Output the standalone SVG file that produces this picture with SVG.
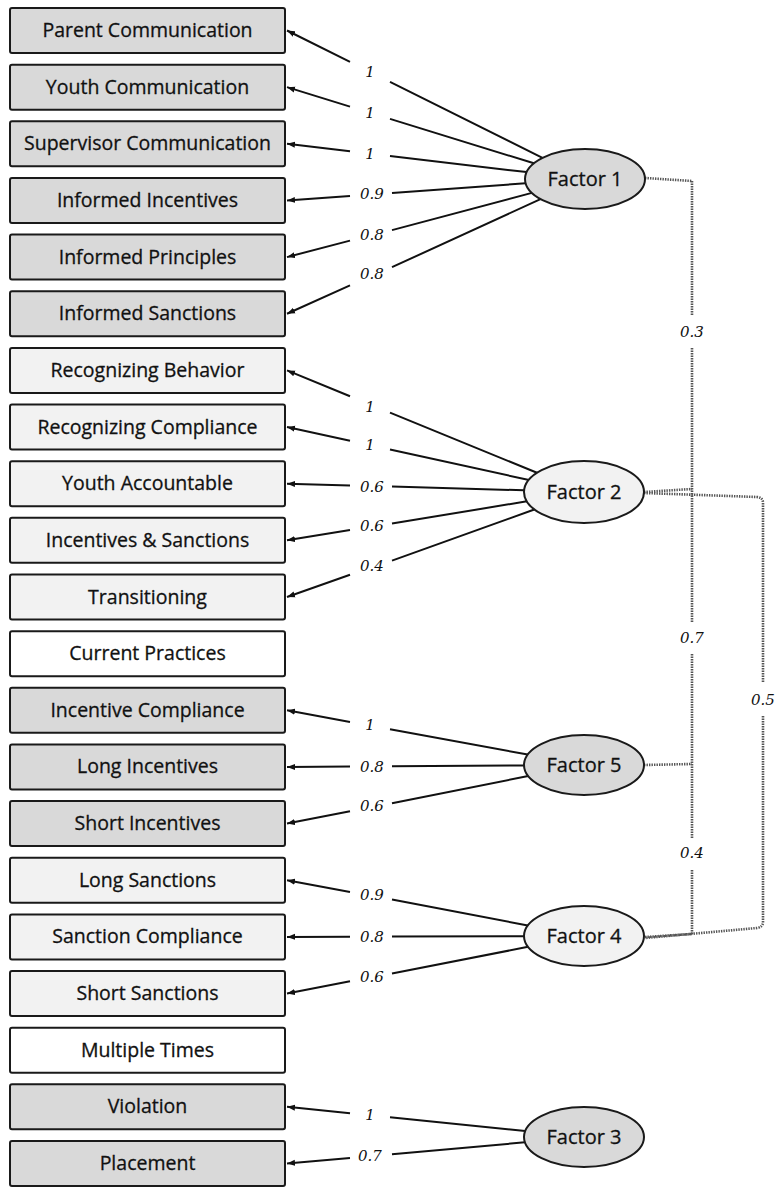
<svg xmlns="http://www.w3.org/2000/svg" width="776" height="1190" viewBox="0 0 776 1190">
<style>
.box{stroke:#1a1a1a;stroke-width:2}
.g{fill:#d9d9d9}.l{fill:#f2f2f2}.w{fill:#ffffff}
.bt{font-family:"Open Sans",sans-serif;font-size:19.5px;fill:#111;stroke:#111;stroke-width:0.3;text-anchor:middle}
.ft{font-family:"Open Sans",sans-serif;font-size:20px;fill:#111;stroke:#111;stroke-width:0.3;text-anchor:middle}
.ell{stroke:#1a1a1a;stroke-width:2}
.ld{fill:none;stroke:#111;stroke-width:2}
.dot{fill:none;stroke:#555;stroke-width:2.6;stroke-dasharray:1.4 1.1}
.lab{font-family:"DejaVu Serif",serif;font-style:italic;font-size:15px;fill:#111;text-anchor:middle}
</style>
<defs>
<marker id="ah" markerUnits="userSpaceOnUse" markerWidth="9" markerHeight="7" refX="8" refY="3.5" orient="auto">
<path d="M0,0.5 L8,3.5 L0,6.5 z" fill="#111"/>
</marker>
</defs>
<rect width="776" height="1190" fill="#ffffff"/>

<g id="connectors">
<g id="loadings" class="ld" marker-end="url(#ah)">
<path d="M542.5,157.8 L390,81.8 M350,61.9 L287,30.5"/>
<path d="M533.9,163.3 L390,118.9 M350,106.6 L287,87.15"/>
<path d="M526.6,172.1 L390,156.0 M350,151.2 L287,143.8"/>
<path d="M525.6,183.3 L392,193.0 M350,195.9 L287,200.45"/>
<path d="M531.9,192.9 L392,230.1 M350,240.6 L287,257.1"/>
<path d="M540.5,199.1 L392,267.2 M350,285.3 L287,313.75"/>
<path d="M537.6,473.0 L390,412.6 M350,396.2 L287,370.4"/>
<path d="M529.0,480.0 L390,449.6 M350,440.8 L287,427.05"/>
<path d="M524.1,490.3 L392,486.6 M350,485.5 L287,483.7"/>
<path d="M526.9,501.3 L392,523.6 M350,530.1 L287,540.35"/>
<path d="M535.0,509.3 L392,560.6 M350,574.7 L287,597.0"/>
<path d="M527.7,754.6 L390,729.3 M350,721.9 L287,710.3"/>
<path d="M524.0,765.4 L392,766.3 M350,766.5 L287,766.95"/>
<path d="M528.2,776.0 L392,803.3 M350,811.2 L287,823.6"/>
<path d="M527.8,925.5 L392,899.6 M350,892.1 L287,880.25"/>
<path d="M524.0,936.2 L392,936.6 M350,936.7 L287,936.9"/>
<path d="M528.1,946.8 L392,973.6 M350,981.3 L287,993.55"/>
<path d="M525.2,1131.0 L390,1117.3 M350,1113.2 L287,1106.85"/>
<path d="M524.9,1142.3 L392,1154.3 M350,1157.9 L287,1163.5"/>
</g>
<g id="loading-labels" class="lab">
<text x="370" y="77">1</text>
<text x="370" y="118">1</text>
<text x="370" y="159">1</text>
<text x="372" y="199">0.9</text>
<text x="372" y="240">0.8</text>
<text x="372" y="279">0.8</text>
<text x="370" y="412">1</text>
<text x="370" y="450">1</text>
<text x="372" y="492">0.6</text>
<text x="372" y="531">0.6</text>
<text x="372" y="571">0.4</text>
<text x="370" y="730">1</text>
<text x="372" y="772">0.8</text>
<text x="372" y="811">0.6</text>
<text x="372" y="900">0.9</text>
<text x="372" y="942">0.8</text>
<text x="372" y="982">0.6</text>
<text x="370" y="1120">1</text>
<text x="370" y="1161">0.7</text>
</g>
<g id="correlations">
<path class="dot" d="M645,178 L692,181 M644,492 L692,489 M644,765 L692,764 M645,937 L692,934 M692,181 L692,316 M692,348 L692,622 M692,654 L692,838 M692,870 L692,934"/>
<path class="dot" d="M644,493 L757,497 Q763,497.5 763,503 L763,682 M763,716 L763,922 Q763,927 757,928 L645,938"/>
<g class="lab">
<text x="692" y="337">0.3</text>
<text x="692" y="643">0.7</text>
<text x="692" y="858">0.4</text>
<text x="763" y="705">0.5</text>
</g>
</g>
</g>

<g id="n0"><rect class="box g" x="10" y="8" width="275" height="45" rx="2"/><text class="bt" x="147.5" y="37">Parent Communication</text></g>
<g id="n1"><rect class="box g" x="10" y="64.65" width="275" height="45" rx="2"/><text class="bt" x="147.5" y="93.65">Youth Communication</text></g>
<g id="n2"><rect class="box g" x="10" y="121.3" width="275" height="45" rx="2"/><text class="bt" x="147.5" y="150.3">Supervisor Communication</text></g>
<g id="n3"><rect class="box g" x="10" y="177.95" width="275" height="45" rx="2"/><text class="bt" x="147.5" y="206.95">Informed Incentives</text></g>
<g id="n4"><rect class="box g" x="10" y="234.6" width="275" height="45" rx="2"/><text class="bt" x="147.5" y="263.6">Informed Principles</text></g>
<g id="n5"><rect class="box g" x="10" y="291.25" width="275" height="45" rx="2"/><text class="bt" x="147.5" y="320.25">Informed Sanctions</text></g>
<g id="n6"><rect class="box l" x="10" y="347.9" width="275" height="45" rx="2"/><text class="bt" x="147.5" y="376.9">Recognizing Behavior</text></g>
<g id="n7"><rect class="box l" x="10" y="404.55" width="275" height="45" rx="2"/><text class="bt" x="147.5" y="433.55">Recognizing Compliance</text></g>
<g id="n8"><rect class="box l" x="10" y="461.2" width="275" height="45" rx="2"/><text class="bt" x="147.5" y="490.2">Youth Accountable</text></g>
<g id="n9"><rect class="box l" x="10" y="517.85" width="275" height="45" rx="2"/><text class="bt" x="147.5" y="546.85">Incentives &amp; Sanctions</text></g>
<g id="n10"><rect class="box l" x="10" y="574.5" width="275" height="45" rx="2"/><text class="bt" x="147.5" y="603.5">Transitioning</text></g>
<g id="n11"><rect class="box w" x="10" y="631.15" width="275" height="45" rx="2"/><text class="bt" x="147.5" y="660.15">Current Practices</text></g>
<g id="n12"><rect class="box g" x="10" y="687.8" width="275" height="45" rx="2"/><text class="bt" x="147.5" y="716.8">Incentive Compliance</text></g>
<g id="n13"><rect class="box g" x="10" y="744.45" width="275" height="45" rx="2"/><text class="bt" x="147.5" y="773.45">Long Incentives</text></g>
<g id="n14"><rect class="box g" x="10" y="801.1" width="275" height="45" rx="2"/><text class="bt" x="147.5" y="830.1">Short Incentives</text></g>
<g id="n15"><rect class="box l" x="10" y="857.75" width="275" height="45" rx="2"/><text class="bt" x="147.5" y="886.75">Long Sanctions</text></g>
<g id="n16"><rect class="box l" x="10" y="914.4" width="275" height="45" rx="2"/><text class="bt" x="147.5" y="943.4">Sanction Compliance</text></g>
<g id="n17"><rect class="box l" x="10" y="971.05" width="275" height="45" rx="2"/><text class="bt" x="147.5" y="1000.05">Short Sanctions</text></g>
<g id="n18"><rect class="box w" x="10" y="1027.7" width="275" height="45" rx="2"/><text class="bt" x="147.5" y="1056.7">Multiple Times</text></g>
<g id="n19"><rect class="box g" x="10" y="1084.35" width="275" height="45" rx="2"/><text class="bt" x="147.5" y="1113.35">Violation</text></g>
<g id="n20"><rect class="box g" x="10" y="1141" width="275" height="45" rx="2"/><text class="bt" x="147.5" y="1170">Placement</text></g>

<g id="factor1"><ellipse class="ell g" cx="585" cy="179" rx="60" ry="30"/><text class="ft" x="585" y="186">Factor 1</text></g>
<g id="factor2"><ellipse class="ell l" cx="584" cy="492" rx="60" ry="31"/><text class="ft" x="584" y="499">Factor 2</text></g>
<g id="factor5"><ellipse class="ell g" cx="584" cy="765" rx="60" ry="30"/><text class="ft" x="584" y="772">Factor 5</text></g>
<g id="factor4"><ellipse class="ell l" cx="584" cy="936" rx="60" ry="30"/><text class="ft" x="584" y="943">Factor 4</text></g>
<g id="factor3"><ellipse class="ell g" cx="584" cy="1137" rx="60" ry="30"/><text class="ft" x="584" y="1144">Factor 3</text></g>
</svg>
